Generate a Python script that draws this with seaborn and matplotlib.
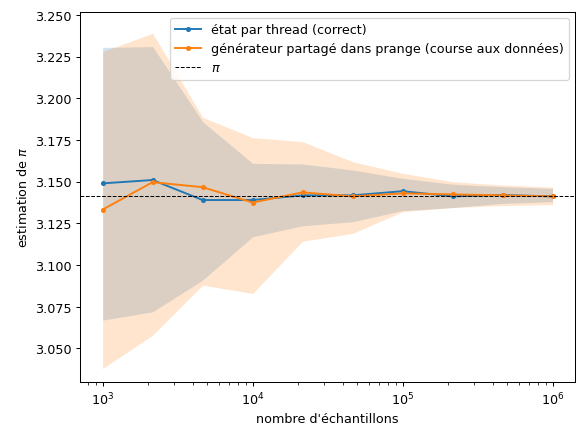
import numpy as np
import pandas as pd
import matplotlib
matplotlib.use("Agg")
import matplotlib.pyplot as plt
import seaborn as sns

n = [1000, 2154, 4642, 10000, 21544, 46416, 100000, 215443, 464159, 1000000]
blue = [3.149, 3.151, 3.139, 3.139, 3.1418, 3.1418, 3.1443, 3.1412, 3.142, 3.1412]
blue_hi = [3.2305, 3.231, 3.186, 3.161, 3.1606, 3.157, 3.152, 3.1485, 3.147, 3.146]
blue_lo = [3.067, 3.072, 3.091, 3.117, 3.1236, 3.126, 3.1327, 3.1345, 3.137, 3.138]
orange = [3.1333, 3.1497, 3.1467, 3.1375, 3.1436, 3.1412, 3.143, 3.1424, 3.1418, 3.1412]
orange_hi = [3.228, 3.239, 3.1886, 3.1764, 3.174, 3.162, 3.155, 3.15, 3.148, 3.1467]
orange_lo = [3.038, 3.058, 3.088, 3.083, 3.1144, 3.119, 3.132, 3.1345, 3.1357, 3.1363]

fig, ax = plt.subplots(figsize=(6.4, 4.8), dpi=91.4)
c1, c2 = "#1f77b4", "#ff7f0e"
sns.lineplot(x=n, y=blue, marker="o", markersize=4, markeredgewidth=0, color=c1,
             label="état par thread (correct)", ax=ax)
ax.fill_between(n, blue_lo, blue_hi, color=c1, alpha=0.2, linewidth=0)
sns.lineplot(x=n, y=orange, marker="o", markersize=4, markeredgewidth=0, color=c2,
             label="générateur partagé dans prange (course aux données)", ax=ax)
ax.fill_between(n, orange_lo, orange_hi, color=c2, alpha=0.2, linewidth=0)
ax.axhline(np.pi, color="black", linestyle="--", linewidth=0.8, label=r"$\pi$")
ax.set_xscale("log")
ax.set_ylim(3.03, 3.252)
ax.set_xlabel("nombre d'échantillons")
ax.set_ylabel(r"estimation de $\pi$")
ax.legend(loc="upper right")
fig.subplots_adjust(left=0.137, right=0.983, top=0.972, bottom=0.128)
fig.savefig("out.png", dpi=91.4)
